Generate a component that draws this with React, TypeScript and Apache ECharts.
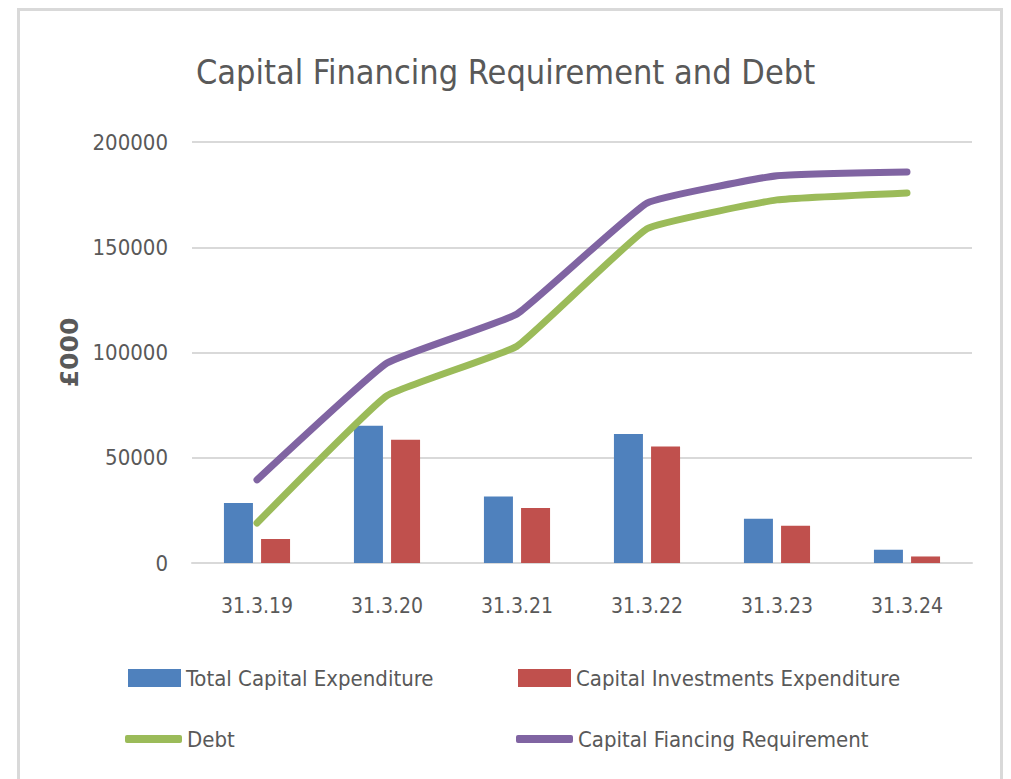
import React, { useEffect, useRef } from "react";
import * as echarts from "echarts";

const categories = ["31.3.19", "31.3.20", "31.3.21", "31.3.22", "31.3.23", "31.3.24"];
const totalCapitalExpenditure = [28500, 65200, 31600, 61300, 21000, 6300];
const capitalInvestmentsExpenditure = [11400, 58600, 26100, 55400, 17700, 3100];
const debt = [19000, 79500, 103000, 158800, 172500, 175800];
const capitalFinancingRequirement = [39500, 95000, 118300, 171000, 184000, 185800];
const yTicks = { min: 0, max: 200000, interval: 50000 };

const FONT = "'DejaVu Sans Condensed', 'DejaVu Sans', sans-serif";
const TXT = "#595959";
const BLUE = "#4F81BD";
const RED = "#C0504D";
const GREEN = "#9BBB59";
const PURPLE = "#8064A2";

export default function App() {
  const ref = useRef<HTMLDivElement>(null);
  useEffect(() => {
    if (!ref.current) return;
    const chart = echarts.init(ref.current, null, { renderer: "svg" });
    const legendBase = {
      orient: "horizontal",
      padding: 0,
      itemGap: 0,
      selectedMode: false,
      textStyle: { fontFamily: FONT, fontSize: 22, color: TXT },
    };
    chart.setOption({
      animation: false,
      backgroundColor: "#ffffff",
      title: {
        text: "Capital Financing Requirement and Debt",
        left: "center",
        top: 50,
        textStyle: { fontFamily: FONT, fontSize: 34, fontWeight: "normal", color: TXT },
      },
      graphic: [
        {
          type: "rect",
          shape: { x: 18.5, y: 9.5, width: 983, height: 800 },
          style: { fill: "none", stroke: "#d9d9d9", lineWidth: 3 },
          silent: true,
        },
      ],
      legend: [
        {
          ...legendBase,
          left: 128,
          top: 667,
          itemWidth: 53,
          itemHeight: 18,
          data: [{ name: "Total Capital Expenditure", icon: "rect" }],
        },
        {
          ...legendBase,
          left: 518,
          top: 667,
          itemWidth: 53,
          itemHeight: 18,
          data: [{ name: "Capital Investments Expenditure", icon: "rect" }],
        },
        {
          ...legendBase,
          left: 125,
          top: 728,
          itemWidth: 57,
          itemHeight: 8,
          data: [{ name: "Debt", icon: "roundRect" }],
        },
        {
          ...legendBase,
          left: 516,
          top: 728,
          itemWidth: 57,
          itemHeight: 8,
          data: [{ name: "Capital Fiancing Requirement", icon: "roundRect" }],
        },
      ],
      grid: { left: 192, right: 39, top: 142, bottom: 216, containLabel: false },
      xAxis: {
        type: "category",
        data: categories,
        axisLine: { show: true, lineStyle: { color: "#d9d9d9", width: 2 } },
        axisTick: { show: false },
        axisLabel: { fontFamily: FONT, fontSize: 21, color: TXT, margin: 32 },
      },
      yAxis: {
        type: "value",
        min: yTicks.min,
        max: yTicks.max,
        interval: yTicks.interval,
        name: "£000",
        nameLocation: "middle",
        nameRotate: 90,
        nameGap: 87,
        nameTextStyle: { fontFamily: "'DejaVu Sans', sans-serif", fontSize: 25, fontWeight: "bold", color: TXT },
        axisLine: { show: false },
        axisTick: { show: false },
        splitLine: { lineStyle: { color: "#d9d9d9", width: 2 } },
        axisLabel: {
          fontFamily: FONT,
          fontSize: 22,
          color: TXT,
          margin: 24,
          formatter: (v: number) => String(v),
        },
      },
      series: [
        {
          name: "Total Capital Expenditure",
          type: "bar",
          data: totalCapitalExpenditure,
          barWidth: 29,
          barGap: "28%",
          itemStyle: { color: BLUE },
        },
        {
          name: "Capital Investments Expenditure",
          type: "bar",
          data: capitalInvestmentsExpenditure,
          barWidth: 29,
          barGap: "28%",
          itemStyle: { color: RED },
        },
        {
          name: "Debt",
          type: "line",
          data: debt,
          smooth: 0.1,
          symbol: "none",
          lineStyle: { color: GREEN, width: 7, cap: "round", join: "round" },
          itemStyle: { color: GREEN },
        },
        {
          name: "Capital Fiancing Requirement",
          type: "line",
          data: capitalFinancingRequirement,
          smooth: 0.1,
          symbol: "none",
          lineStyle: { color: PURPLE, width: 7, cap: "round", join: "round" },
          itemStyle: { color: PURPLE },
        },
      ],
    });
    return () => chart.dispose();
  }, []);
  return (
    <div
      ref={ref}
      style={{ position: "fixed", left: 0, top: 0, width: 1011, height: 779 }}
    />
  );
}
